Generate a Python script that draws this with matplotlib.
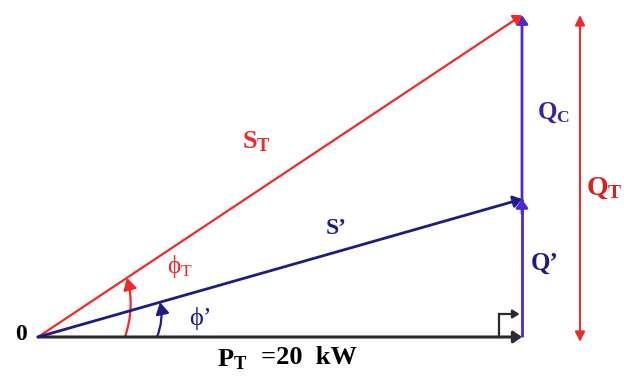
import numpy as np
import matplotlib
matplotlib.use("Agg")
import matplotlib.pyplot as plt
from matplotlib.patches import FancyArrowPatch

# ---- data (kW / kVAr) ----
P_T = 20.0        # active power
Q_T = 13.3        # total reactive power (before correction)
Q_new = 5.7       # reactive power after correction (Q')
p_label = [r"$\mathbf{P_T}$", "=20  kW"]

plt.rcParams['mathtext.fontset'] = 'custom'
plt.rcParams['mathtext.rm'] = 'Liberation Serif'
plt.rcParams['mathtext.it'] = 'Liberation Serif'
plt.rcParams['mathtext.bf'] = 'Liberation Serif:bold'

W, H = 624, 382
fig = plt.figure(figsize=(W / 100, H / 100), dpi=100)
ax = fig.add_axes([0, 0, 1, 1])
SC = 24.2          # pixels per unit
OX, OY = 38, 337   # origin in pixels
ax.set_xlim(-OX / SC, (W - OX) / SC)
ax.set_ylim((OY - H) / SC, OY / SC)
ax.axis('off')

def px(x, y):
    return (x - OX) / SC, (OY - y) / SC

RED = '#f02828'
NAVY = '#1c1c86'
PURP = '#4a28d8'
BLK = '#2a2a2a'

def curved_arrow(p0, p1, color, lw, rad):
    ax.add_patch(FancyArrowPatch(p0, p1, arrowstyle='-|>,head_width=0.4,head_length=0.7',
                                 connectionstyle=f'arc3,rad={rad}', color=color, lw=lw,
                                 shrinkA=0, shrinkB=0, mutation_scale=10))

def arrow2(p0, p1, color, lw, hw=0.35, hl=0.5):
    ax.annotate('', xy=p1, xytext=p0,
                arrowprops=dict(arrowstyle=f'-|>,head_width={hw},head_length={hl}',
                                color=color, lw=lw, shrinkA=0, shrinkB=0))

# P_T baseline
arrow2((0, 0), (P_T, 0), BLK, 2.2)
# vertical reactive components
ax.plot([P_T, P_T], [0, Q_new], color=PURP, lw=2.0, solid_capstyle='butt')
arrow2((P_T, Q_new), (P_T, Q_T), PURP, 2.0)
arrow2((P_T, Q_new - 0.6), (P_T, Q_new), PURP, 2.0)
# S_T and S'
arrow2((0, 0), (P_T, Q_T), RED, 1.6)
arrow2((0, 0), (P_T, Q_new), NAVY, 2.0)

# right-angle marker
a, b = px(499, 337), px(499, 314)
ax.plot([a[0], b[0]], [a[1], b[1]], color=BLK, lw=1.6)
arrow2(b, (P_T - 0.1, b[1]), BLK, 1.6, hw=0.25, hl=0.4)

# Q_T double arrow
xq = px(580, 0)[0]
ax.annotate('', xy=(xq, Q_T), xytext=(xq, -0.2),
            arrowprops=dict(arrowstyle='<|-|>,head_width=0.3,head_length=0.6',
                            color=RED, lw=1.4, shrinkA=0, shrinkB=0))

# angle marks: slightly bulging curves from the baseline up to each vector
def angle_mark(x0, x1, q, color):
    y1 = x1 * q / P_T
    curved_arrow((x0, 0), (x1, y1), color, 1.6, 0.15)

angle_mark(87 / SC, 89 / SC, Q_T, RED)
angle_mark(119 / SC, 122 / SC, Q_new, NAVY)

# text
serif = ['Liberation Serif', 'DejaVu Serif']
ax.text(*px(21, 335), "0", fontsize=17, fontweight='bold', family=serif,
        color='black', ha='center', va='center')
ax.text(*px(217, 359), p_label[0], fontsize=19, color='black', ha='left', va='center')
ax.text(*px(261, 358), p_label[1], fontsize=19, fontweight='bold', family=serif,
        color='black', ha='left', va='center')
ax.text(*px(256, 141), r'$\mathbf{S_T}$', fontsize=19, color=RED, ha='center', va='center')
ax.text(*px(336, 228), "S’", fontsize=17, fontweight='bold', family=serif,
        color=NAVY, ha='center', va='center')
ax.text(*px(180, 267), r'ϕ$_\mathrm{T}$', fontsize=18, family=serif,
        color=RED, ha='center', va='center')
ax.text(*px(200, 318), "ϕ’", fontsize=19, family=serif,
        color=NAVY, ha='center', va='center')
ax.text(*px(553, 113), r'$\mathbf{Q_C}$', fontsize=18, color='#3a22a0',
        ha='center', va='center')
ax.text(*px(545, 263), "Q’", fontsize=18, fontweight='bold', family=serif,
        color=NAVY, ha='center', va='center')
ax.text(*px(586, 187), r'$\mathbf{Q_T}$', fontsize=20, color='#d82020',
        ha='left', va='center')

fig.savefig('out.png', dpi=100)
